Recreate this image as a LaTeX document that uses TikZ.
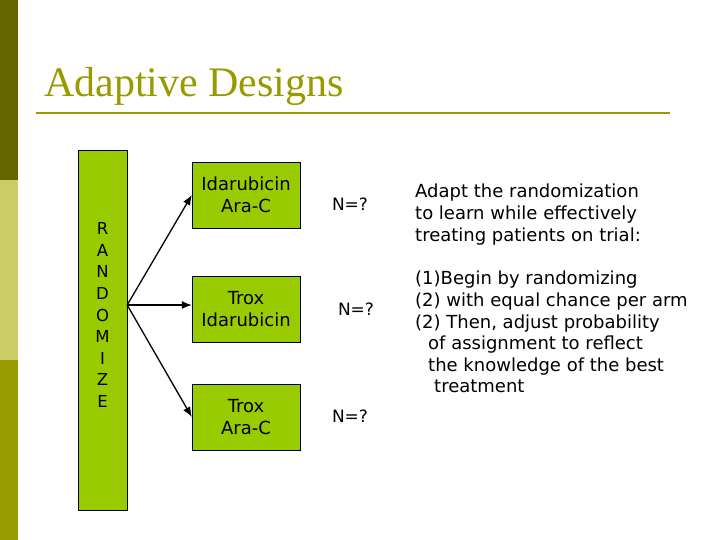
\documentclass[tikz,border=0pt]{standalone}
\usepackage{fontspec}
\setmainfont{DejaVu Sans}
\newfontfamily\titlefont{Liberation Serif}
\usepackage{xcolor}
\usepackage{tikz}
\usetikzlibrary{shapes,arrows.meta}

\definecolor{oliveDark}{HTML}{666600}
\definecolor{oliveLight}{HTML}{CCCC66}
\definecolor{oliveMid}{HTML}{999900}
\definecolor{armGreen}{HTML}{99CC00}

\begin{document}
\begin{tikzpicture}[x=1pt, y=-1pt, node distance=114pt, auto,
      arm/.style={rectangle, draw, fill=armGreen, minimum width=108pt, minimum height=66pt, inner sep=0pt, align=center, font=\fontsize{18}{21.6}\selectfont},
      line/.style={draw, -{Latex[length=10pt, width=8pt]}, line width=1.3pt},
      note/.style={inner sep=0pt, align=left, anchor=north west, font=\fontsize{18}{21.6}\selectfont},
      count/.style={inner sep=0pt, font=\fontsize{17}{20}\selectfont}]
      \useasboundingbox (0,0) rectangle (720,540);

      % Side bar and title
      \fill [oliveDark] (0,0) rectangle (18,180);
      \fill [oliveLight] (0,180) rectangle (18,360);
      \fill [oliveMid] (0,360) rectangle (18,540);
      \node [anchor=base west, inner sep=0pt, text=oliveMid, font=\titlefont\fontsize{42}{48}\selectfont] (title) at (44,97) {Adaptive Designs};
      \draw [oliveMid, line width=2pt] (36,113) -- (670,113);

      % Nodes
      \node [rectangle, draw, fill=armGreen, minimum width=49pt, minimum height=360pt, inner sep=0pt] (rand) at (102.5,330) {};
      \node [inner sep=0pt, align=center, font=\fontsize{16.5}{21.6}\selectfont] (randtext) at (102.5,315) {R\\A\\N\\D\\O\\M\\I\\Z\\E};
      \node [arm] (arm1) at (246,195) {Idarubicin\\Ara-C};
      \node [arm, below of=arm1] (arm2) {Trox\\Idarubicin};
      \node [arm, below of=arm2, node distance=108pt] (arm3) {Trox\\Ara-C};
      \coordinate (fork) at ([yshift=25pt]rand.east);

      % Edges
      \path [line] (fork) -- (arm1.west);
      \path [line] (fork) -- (fork -| arm2.west);
      \path [line] (fork) -- (arm3.west);

      % Annotations
      \node [count] (n1) at (350,204) {N=?};
      \node [count] (n2) at (356,309) {N=?};
      \node [count] (n3) at (350,416) {N=?};
      \node [note] (aim) at (415,184) {Adapt the randomization\\to learn while effectively\\treating patients on trial:};
      \node [note] (steps) at (415,271) {(1)Begin by randomizing\\(2) with equal chance per arm\\(2) Then, adjust probability\\\hspace*{13pt}of assignment to reflect\\\hspace*{13pt}the knowledge of the best\\\hspace*{19pt}treatment};

    \end{tikzpicture}
\end{document}
